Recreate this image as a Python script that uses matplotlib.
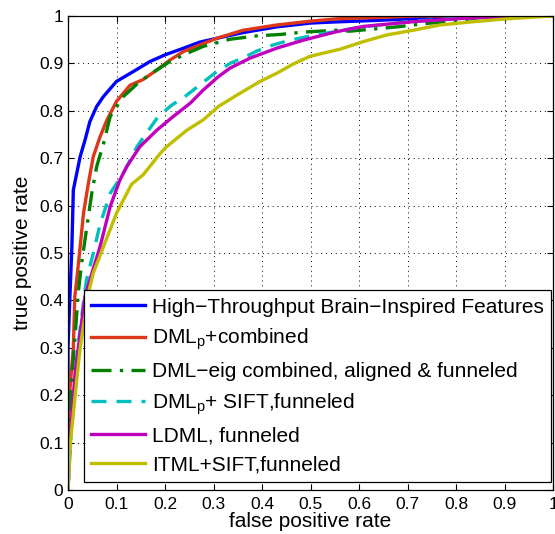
import matplotlib
matplotlib.use("Agg")
import matplotlib.pyplot as plt

plt.rcParams['font.family'] = ['Liberation Sans', 'DejaVu Sans']
plt.rcParams['mathtext.fontset'] = 'custom'
plt.rcParams['mathtext.rm'] = 'Liberation Sans'
plt.rcParams['mathtext.it'] = 'Liberation Sans'

labels = [
    "High\u2212Throughput Brain\u2212Inspired Features",
    "DML$_{\\rm p}$+combined",
    "DML\u2212eig combined, aligned & funneled",
    "DML$_{\\rm p}$+ SIFT,funneled",
    "LDML, funneled",
    "ITML+SIFT,funneled",
]

blue_x = [0, 0.0, 0.004, 0.008, 0.011, 0.018, 0.025, 0.035, 0.045, 0.059, 0.073, 0.1, 0.135, 0.169, 0.2, 0.238, 0.272, 0.307, 0.361, 0.43, 0.499, 0.54, 0.643, 0.75, 0.85, 1.0]
blue_y = [0, 0.3, 0.41, 0.513, 0.633, 0.668, 0.703, 0.738, 0.777, 0.809, 0.83, 0.862, 0.883, 0.904, 0.918, 0.932, 0.945, 0.953, 0.965, 0.977, 0.985, 0.987, 0.991, 0.996, 0.999, 1.0]

red_x = [0, 0.003, 0.011, 0.014, 0.018, 0.025, 0.032, 0.042, 0.052, 0.066, 0.08, 0.1, 0.128, 0.155, 0.183, 0.21, 0.238, 0.272, 0.307, 0.361, 0.43, 0.499, 0.554, 0.64, 0.72, 1.0]
red_y = [0, 0.2, 0.3, 0.408, 0.443, 0.513, 0.584, 0.647, 0.703, 0.745, 0.78, 0.82, 0.854, 0.866, 0.886, 0.907, 0.925, 0.939, 0.953, 0.97, 0.981, 0.989, 0.994, 0.997, 1.0, 1.0]

green_x = [0, 0.005, 0.015, 0.021, 0.028, 0.038, 0.049, 0.059, 0.073, 0.087, 0.114, 0.148, 0.183, 0.21, 0.245, 0.279, 0.334, 0.389, 0.437, 0.485, 0.554, 0.581, 0.678, 0.746, 0.788, 0.85, 1.0]
green_y = [0, 0.2, 0.33, 0.415, 0.478, 0.549, 0.626, 0.682, 0.73, 0.788, 0.83, 0.862, 0.886, 0.904, 0.921, 0.936, 0.951, 0.958, 0.961, 0.966, 0.970, 0.968, 0.977, 0.985, 0.988, 0.997, 1.0]

cyan_x = [0, 0.008, 0.02, 0.038, 0.052, 0.066, 0.087, 0.114, 0.142, 0.166, 0.186, 0.214, 0.245, 0.276, 0.307, 0.334, 0.368, 0.389, 0.423, 0.458, 0.5, 0.6, 0.7, 0.8, 0.9, 1.0]
cyan_y = [0, 0.15, 0.3, 0.443, 0.499, 0.56, 0.626, 0.668, 0.724, 0.759, 0.788, 0.812, 0.833, 0.858, 0.883, 0.9, 0.915, 0.926, 0.939, 0.949, 0.958, 0.976, 0.988, 0.995, 0.999, 1.0]

mag_x = [0, 0.005, 0.015, 0.025, 0.035, 0.045, 0.066, 0.087, 0.107, 0.121, 0.148, 0.183, 0.217, 0.252, 0.279, 0.31, 0.334, 0.375, 0.43, 0.485, 0.554, 0.609, 0.712, 0.815, 0.92, 1.0]
mag_y = [0, 0.12, 0.25, 0.33, 0.408, 0.443, 0.513, 0.598, 0.654, 0.682, 0.724, 0.759, 0.788, 0.816, 0.844, 0.872, 0.89, 0.911, 0.932, 0.949, 0.967, 0.978, 0.988, 0.995, 0.999, 1.0]

yel_x = [0, 0.004, 0.018, 0.025, 0.042, 0.052, 0.073, 0.1, 0.131, 0.155, 0.19, 0.203, 0.245, 0.279, 0.31, 0.348, 0.396, 0.43, 0.465, 0.499, 0.561, 0.609, 0.657, 0.712, 0.767, 0.836, 0.904, 0.966, 1.0]
yel_y = [0, 0.09, 0.232, 0.3, 0.415, 0.457, 0.513, 0.584, 0.645, 0.665, 0.71, 0.724, 0.759, 0.781, 0.809, 0.833, 0.862, 0.879, 0.899, 0.915, 0.930, 0.946, 0.96, 0.97, 0.981, 0.988, 0.994, 0.998, 1.0]

ticks = [0, 0.1, 0.2, 0.3, 0.4, 0.5, 0.6, 0.7, 0.8, 0.9, 1]
tick_labels = ["0", "0.1", "0.2", "0.3", "0.4", "0.5", "0.6", "0.7", "0.8", "0.9", "1"]

fig = plt.figure(figsize=(5.55, 5.34), dpi=100)
ax = fig.add_axes([68/555, 1-490/534, 485/555, 474/534])

lw = 2.4
ax.plot(blue_x, blue_y, color=(0, 0, 1), lw=lw, label=labels[0])
ax.plot(red_x, red_y, color=(0.87, 0.22, 0.1), lw=lw, label=labels[1])
ax.plot(green_x, green_y, color=(0, 0.5, 0), lw=lw, dashes=(6, 2.5, 1, 2.5), label=labels[2])
ax.plot(cyan_x, cyan_y, color=(0, 0.75, 0.75), lw=lw, dashes=(4.5, 3), label=labels[3])
ax.plot(mag_x, mag_y, color=(0.75, 0, 0.75), lw=lw, label=labels[4])
ax.plot(yel_x, yel_y, color=(0.75, 0.75, 0), lw=lw, label=labels[5])

ax.set_xlim(0, 1)
ax.set_ylim(0, 1)
ax.set_xticks(ticks)
ax.set_yticks(ticks)
ax.set_xticklabels(tick_labels, fontsize=12.5)
ax.set_yticklabels(tick_labels, fontsize=12.5)
ax.tick_params(direction='in', top=True, right=True, length=4, width=0.8)
ax.tick_params(axis='x', pad=5)
ax.grid(True, color='black', linestyle=(0, (1, 4)), linewidth=0.7)
for s in ax.spines.values():
    s.set_linewidth(0.9)

ax.set_xlabel("false positive rate", fontsize=15, labelpad=0)
ax.set_ylabel("true positive rate", fontsize=15, labelpad=5)

leg = ax.legend(loc='lower right', bbox_to_anchor=(0.996, 0.017), borderaxespad=0,
                fontsize=15, handlelength=2.55, handletextpad=0.35, labelspacing=0.48,
                borderpad=0.35, fancybox=False, edgecolor='black', framealpha=1)
leg.get_frame().set_linewidth(0.9)

fig.savefig("out.png", dpi=100)
